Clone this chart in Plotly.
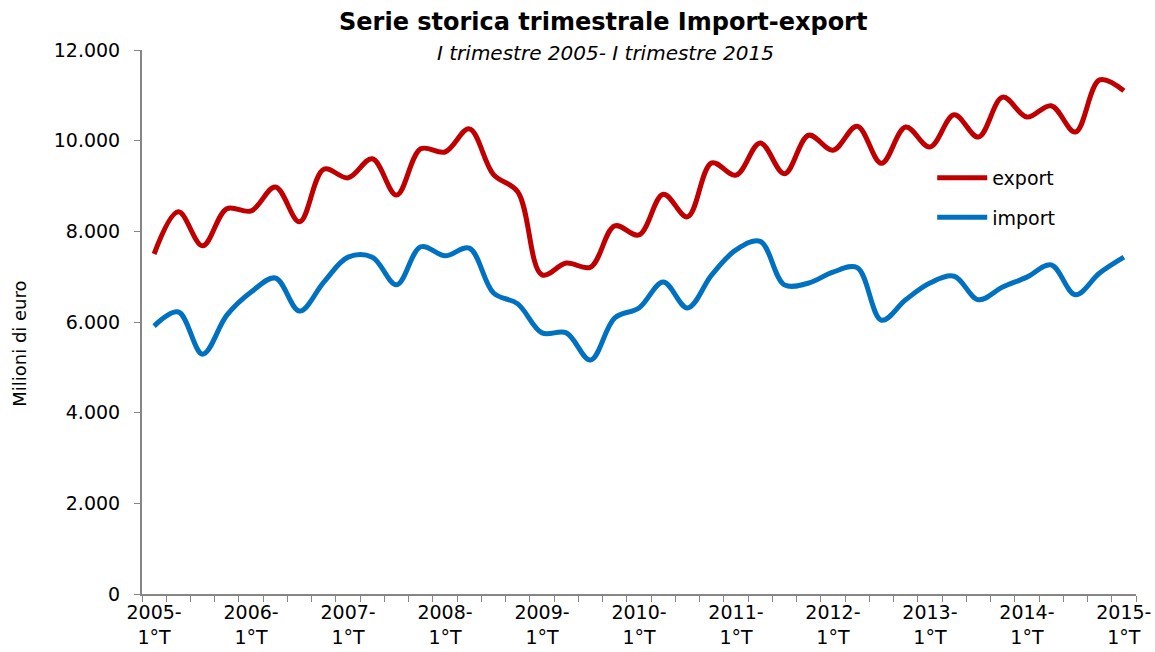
import plotly.graph_objects as go

years = list(range(2005, 2016))
quarters = [f"{2005 + i // 4}-{i % 4 + 1}°T" for i in range(41)]

export_vals = [7500, 8430, 7680, 8500, 8450, 8980, 8210, 9370, 9180, 9600,
               8800, 9820, 9750, 10260, 9250, 8870, 7040, 7300, 7210, 8120,
               7920, 8820, 8320, 9510, 9240, 9950, 9270, 10120, 9790, 10320,
               9500, 10300, 9860, 10570, 10080, 10960, 10520, 10770, 10190, 11340,
               11100]
import_vals = [5910, 6220, 5290, 6150, 6660, 6970, 6240, 6880, 7430, 7430,
               6820, 7660, 7460, 7630, 6640, 6400, 5760, 5760, 5160, 6090,
               6310, 6880, 6310, 7040, 7590, 7780, 6820, 6860, 7100, 7200,
               6040, 6490, 6860, 7010, 6490, 6770, 6990, 7260, 6600, 7080,
               7430]

tick_idx = list(range(0, 41, 4))
tick_text = [f"{y}-<br>1°T" for y in years]

x = list(range(len(quarters)))

fig = go.Figure()
fig.add_trace(go.Scatter(x=x, y=export_vals, name="export", mode="lines",
                         legendgroup="e",
                         line=dict(color="#C00000", width=5, shape="spline", smoothing=1),
                         text=quarters))
fig.add_trace(go.Scatter(x=x, y=import_vals, name="import", mode="lines",
                         legendgroup="i",
                         line=dict(color="#0070C0", width=5, shape="spline", smoothing=1),
                         text=quarters))

font_family = "DejaVu Sans, Verdana, sans-serif"

fig.update_layout(
    width=1155, height=652,
    margin=dict(l=142, r=19, t=50, b=58),
    paper_bgcolor="white", plot_bgcolor="white",
    separators=",.",
    font=dict(family=font_family, size=19, color="black"),
    showlegend=True,
    legend=dict(x=0.795, y=0.80, xanchor="left", yanchor="top",
                font=dict(size=19, family=font_family), bgcolor="rgba(0,0,0,0)",
                tracegroupgap=12, itemwidth=50),
)

fig.add_annotation(text="<b>Serie storica trimestrale Import-export</b>",
                   xref="paper", yref="paper", x=0.464, y=1, yshift=28,
                   xanchor="center", yanchor="middle", showarrow=False,
                   font=dict(size=24, family=font_family, color="black"))
fig.add_annotation(text="<i>I trimestre 2005- I trimestre 2015</i>",
                   xref="paper", yref="paper", x=0.466, y=1, yshift=-3,
                   xanchor="center", yanchor="middle", showarrow=False,
                   font=dict(size=20, family=font_family, color="black"))
fig.add_annotation(text="Milioni di euro", textangle=-90,
                   xref="paper", yref="paper", x=-0.1227, y=0.46,
                   xanchor="center", yanchor="middle", showarrow=False,
                   font=dict(size=18, family=font_family, color="black"))

fig.update_xaxes(
    range=[-0.5, 40.5], showgrid=False, zeroline=False, automargin=False,
    showline=True, linecolor="#868686", linewidth=2,
    tickmode="array", tickvals=tick_idx, ticktext=tick_text,
    ticks="", tickfont=dict(size=19, family=font_family),
    minor=dict(tick0=0.5, dtick=1, ticks="outside", ticklen=6,
               tickcolor="#868686", tickwidth=1, showgrid=False),
)
fig.update_yaxes(
    range=[0, 12000], dtick=2000, tickformat=",d", showgrid=False, zeroline=False,
    automargin=False,
    showline=True, linecolor="#868686", linewidth=2,
    ticks="outside", ticklen=6, tickcolor="#868686", tickwidth=1,
    ticklabelstandoff=10,
    tickfont=dict(size=19, family=font_family),
)

fig.write_html("out.html")
